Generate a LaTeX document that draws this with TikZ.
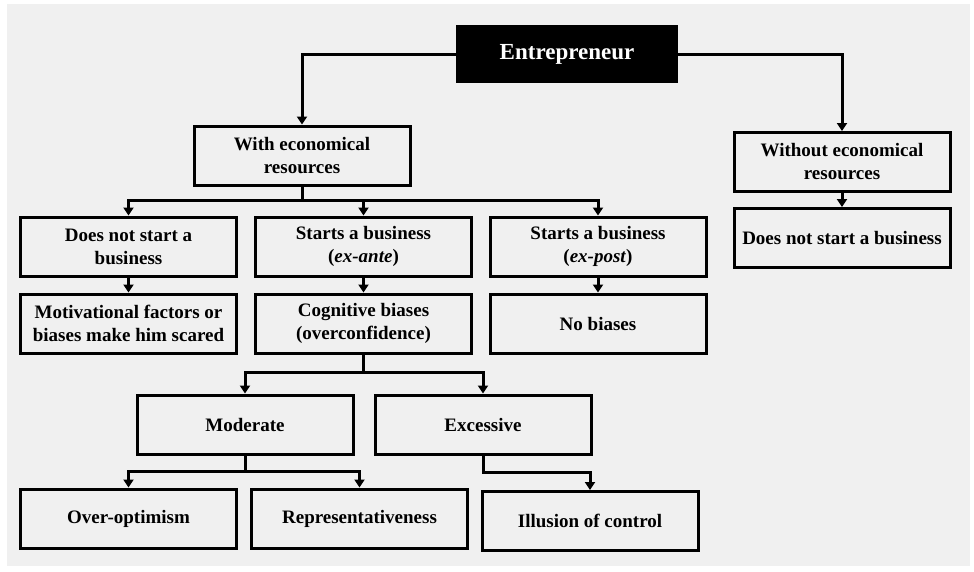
\documentclass[tikz,border=0pt]{standalone}
\usepackage{fontspec}
\setmainfont{Liberation Serif}
\usepackage{xcolor}
\usepackage{tikz}
\usetikzlibrary{arrows.meta}
\usetikzlibrary{calc}
\definecolor{panel}{HTML}{F0F0F0}

\begin{document}
\begin{tikzpicture}[x=1pt, y=-1pt, box/.style={draw, line width=3pt, minimum width=216pt, minimum height=59pt, inner sep=2pt, align=center, font=\fontsize{19}{23}\selectfont\bfseries}, arr/.style={line width=3pt, -{Triangle[width=10pt,length=8pt]}}]
  \fill[white] (0,0) rectangle (974,571);
  \fill[panel] (7,4) rectangle (970,566);
  \node[box, fill=black, text=white, minimum width=219pt, minimum height=55pt, font=\fontsize{23}{27}\selectfont\bfseries](root) at (567,54){Entrepreneur};
  \node[box](with) at (302,155.5){With economical\\resources};
  \node[box](without) at (842,162){Without economical\\resources};
  \node[box](nostartr) at (842,238){Does not start a business};
  \node[box](nostart) at (128.5,246.5){Does not start a\\business};
  \node[box](exante) at (363.5,246.5){Starts a business\\(\textit{ex-ante})};
  \node[box](expost) at (598,246.5){Starts a business\\(\textit{ex-post})};
  \node[box](motiv) at (128.5,323.5){Motivational factors or\\biases make him scared};
  \node[box](cogn) at (363.5,323.5){Cognitive biases\\(overconfidence)};
  \node[box](nobias) at (598,323.5){No biases};
  \node[box](moderate) at (245,424.5){Moderate};
  \node[box](excessive) at (483,424.5){Excessive};
  \node[box](overopt) at (128.5,518.5){Over-optimism};
  \node[box](repr) at (359.5,518.5){Representativeness};
  \node[box](illusion) at (590,521){Illusion of control};
  % joints
  \coordinate (bus1) at ($(with.south)+(0,14)$);
  \coordinate (bus2) at ($(cogn.south)+(0,18)$);
  \coordinate (bus3) at ($(moderate.south)+(0,16)$);
  \coordinate (bus4) at ($(excessive.south)+(0,17)$);
  \draw[arr] (root.west) -| (with.north);
  \draw[arr] (root.east) -| (without.north);
  \draw[arr] (without) -- (nostartr);
  \draw[line width=3pt] (with.south) -- (bus1);
  \draw[arr] (bus1) -| (nostart.north);
  \draw[arr] (bus1) -| (exante.north);
  \draw[arr] (bus1) -| (expost.north);
  \draw[arr] (nostart) -- (motiv);
  \draw[arr] (exante) -- (cogn);
  \draw[arr] (expost) -- (nobias);
  \draw[line width=3pt] (cogn.south) -- (bus2);
  \draw[arr] (bus2) -| (moderate.north);
  \draw[arr] (bus2) -| (excessive.north);
  \draw[line width=3pt] (moderate.south) -- (bus3);
  \draw[arr] (bus3) -| (overopt.north);
  \draw[arr] (bus3) -| (repr.north);
  \draw[arr] (excessive.south) -- (bus4) -| (illusion.north);
\end{tikzpicture}
\end{document}
